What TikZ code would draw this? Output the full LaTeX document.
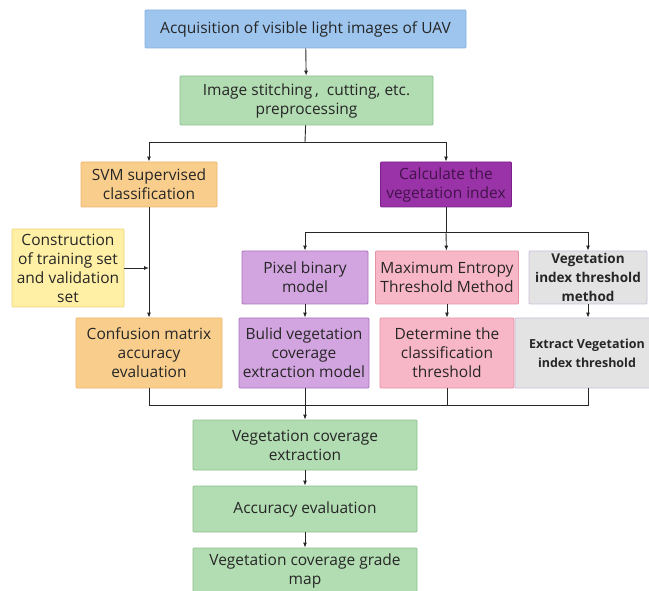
\documentclass[tikz,border=0pt]{standalone}
\usepackage{fontspec}
\setmainfont{Open Sans}
\usetikzlibrary{arrows.meta}

\definecolor{BlueFill}{HTML}{9DC5EE}
\definecolor{BlueLine}{HTML}{86B2E2}
\definecolor{GreenFill}{HTML}{B2DCB2}
\definecolor{GreenLine}{HTML}{8CC08C}
\definecolor{OrangeFill}{HTML}{F9CE8D}
\definecolor{OrangeLine}{HTML}{EDB66C}
\definecolor{PurpleFill}{HTML}{9A33A8}
\definecolor{PurpleLine}{HTML}{7A2088}
\definecolor{YellowFill}{HTML}{FFF0A6}
\definecolor{YellowLine}{HTML}{EDD27A}
\definecolor{LilacFill}{HTML}{D3A5E0}
\definecolor{LilacLine}{HTML}{A874BE}
\definecolor{PinkFill}{HTML}{F8B7C6}
\definecolor{PinkLine}{HTML}{E393A6}
\definecolor{GrayFill}{HTML}{E3E3E3}
\definecolor{GrayLine}{HTML}{CBBFD8}
\definecolor{TextGray}{HTML}{262626}

\tikzset{BoxStyle/.style = {
 shape = rectangle,
 rounded corners = 1pt,
 line width = 0.8pt,
 text = TextGray,
 align = center,
 inner sep = 2pt,
 font = \fontsize{15.5}{19}\selectfont} }

\tikzset{BoldStyle/.style = {font = \fontsize{13.5}{19}\selectfont\bfseries} }
\tikzset{ArrowStyle/.style = {line width=0.9pt, draw=black!85, -{Latex[length=5pt,width=4pt]}} }
\tikzset{LineStyle/.style = {line width=0.9pt, draw=black!85} }

\begin{document}
\begin{tikzpicture}[x=1pt, y=-1pt]
\useasboundingbox (0,0) rectangle (649,591);

\node[BoxStyle, fill=BlueFill, draw=BlueLine, minimum width=321pt, minimum height=38pt] (B1) at (305.5,29) {Acquisition of visible light images of UAV};
\node[BoxStyle, fill=GreenFill, draw=GreenLine, minimum width=253pt, minimum height=49pt] (B2) at (306.5,100.5) {Image stitching\,,\ \ cutting, etc.\\preprocessing};

\node[BoxStyle, fill=OrangeFill, draw=OrangeLine, minimum width=136pt, minimum height=45pt] (B3) at (149,184.5) {SVM supervised\\classification};
\node[BoxStyle, fill=PurpleFill, draw=PurpleLine, text=PurpleLine!55!black, minimum width=131pt, minimum height=45pt] (B4) at (446,184.5) {Calculate the\\vegetation index};

\node[BoxStyle, fill=YellowFill, draw=YellowLine, minimum width=112pt, minimum height=78pt] (B5) at (68,268) {Construction\\of training set\\and validation\\set};

\node[BoxStyle, fill=LilacFill, draw=LilacLine, minimum width=126pt, minimum height=53pt] (B6) at (305,277.5) {Pixel binary\\model};
\node[BoxStyle, fill=PinkFill, draw=PinkLine, minimum width=143pt, minimum height=53pt] (B7) at (447,277.5) {Maximum Entropy\\Threshold Method};
\node[BoxStyle, BoldStyle, fill=GrayFill, draw=GrayLine, minimum width=118pt, minimum height=53pt] (B8) at (588,277.5) {Vegetation\\index threshold\\method};

\node[BoxStyle, fill=OrangeFill, draw=OrangeLine, minimum width=146pt, minimum height=70pt] (B9) at (149,353) {Confusion matrix\\accuracy\\evaluation};
\node[BoxStyle, fill=LilacFill, draw=LilacLine, minimum width=130pt, minimum height=70pt] (B10) at (304,353) {Bulid vegetation\\coverage\\extraction model};
\node[BoxStyle, fill=PinkFill, draw=PinkLine, minimum width=134pt, minimum height=70pt] (B11) at (447,353) {Determine the\\classification\\threshold};
\node[BoxStyle, BoldStyle, fill=GrayFill, draw=GrayLine, minimum width=144pt, minimum height=70pt, font=\fontsize{12.5}{19}\selectfont\bfseries] (B12) at (587,353) {Extract Vegetation\\index threshold};

\node[BoxStyle, fill=GreenFill, draw=GreenLine, minimum width=224pt, minimum height=50pt] (B13) at (305,445) {Vegetation coverage\\extraction};
\node[BoxStyle, fill=GreenFill, draw=GreenLine, minimum width=224pt, minimum height=46pt] (B14) at (305,509) {Accuracy evaluation};
\node[BoxStyle, fill=GreenFill, draw=GreenLine, minimum width=224pt, minimum height=46pt] (B15) at (305,571) {Vegetation coverage grade\\map};

\coordinate (S1) at (305,142);
\coordinate (S2) at (446,232);
\coordinate (S3) at (305,405);

\draw[ArrowStyle] (B1) -- (B2);
\draw[LineStyle] (B2) -- (S1);
\draw[ArrowStyle] (S1) -| (B3);
\draw[ArrowStyle] (S1) -| (B4);
\draw[ArrowStyle] (B3) -- (B9);
\draw[ArrowStyle] (B5.east) -- (B5.east -| B3.south);

\draw[LineStyle] (B4) -- (S2);
\draw[ArrowStyle] (S2) -| (B6);
\draw[ArrowStyle] (S2) -- (B7);
\draw[ArrowStyle] (S2) -| (B8);
\draw[ArrowStyle] (B6) -- (B6 |- B10.north);
\draw[ArrowStyle] (B7) -- (B11);
\draw[ArrowStyle] (B8.south) -- (B8.south |- B12.north);

\draw[LineStyle] (B9) |- (S3);
\draw[LineStyle] (B10.south -| B6) -- (S3);
\draw[LineStyle] (B11) |- (S3);
\draw[LineStyle] (B12.south -| B8) |- (S3);
\draw[ArrowStyle] (S3) -- (B13);
\draw[ArrowStyle] (B13) -- (B14);
\draw[ArrowStyle] (B14) -- (B15);

\end{tikzpicture}
\end{document}
